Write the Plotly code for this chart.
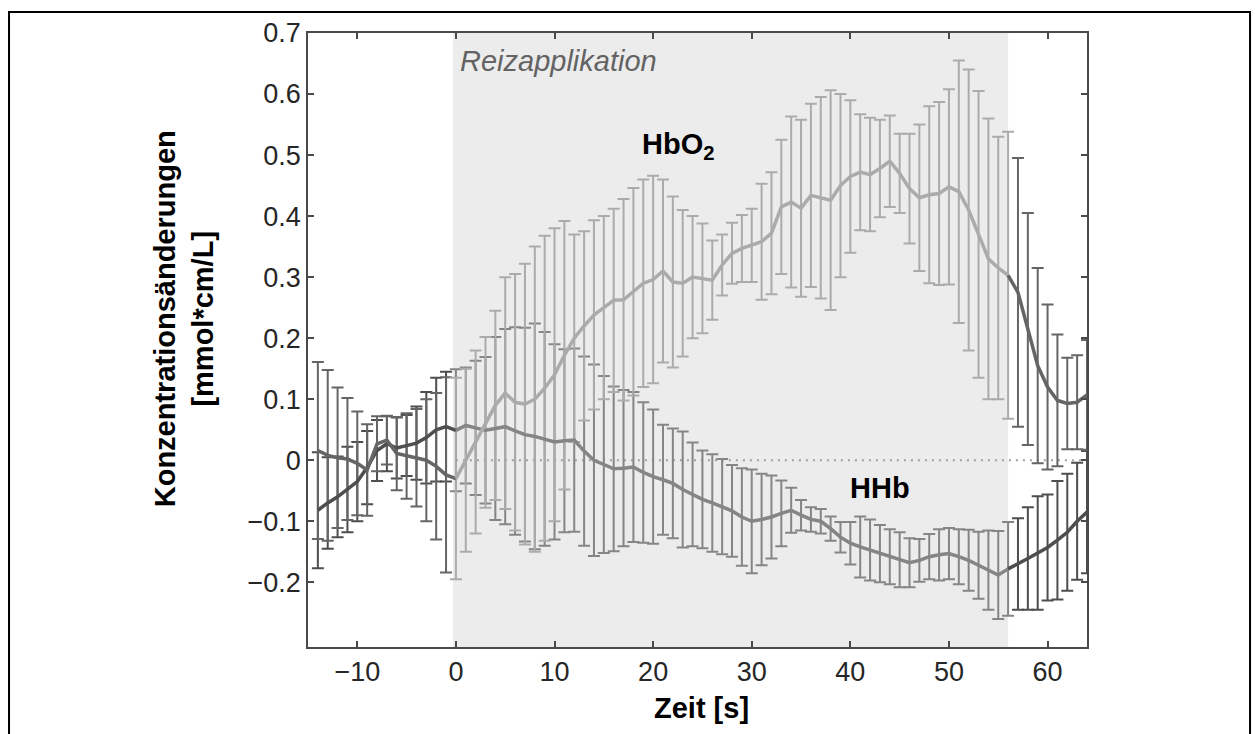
import plotly.graph_objects as go

# ---------------- data ----------------
time_s = list(range(-14, 65))

hbo2_mean = [0.016, 0.008, 0.004, 0.002, -0.005, -0.016, 0.027, 0.033, 0.011, 0.007,
             0.004, 0.0, -0.01, -0.024, -0.03, 0.0, 0.03, 0.062, 0.09, 0.11,
             0.095, 0.092, 0.1, 0.118, 0.14, 0.172, 0.2, 0.22, 0.238, 0.25,
             0.262, 0.263, 0.276, 0.29, 0.296, 0.31, 0.292, 0.29, 0.3, 0.298,
             0.295, 0.32, 0.339, 0.347, 0.352, 0.358, 0.372, 0.415, 0.423, 0.413,
             0.434, 0.43, 0.426, 0.45, 0.465, 0.472, 0.468, 0.478, 0.49, 0.47,
             0.445, 0.43, 0.435, 0.437, 0.448, 0.44, 0.41, 0.37, 0.33, 0.315,
             0.303, 0.275, 0.215, 0.155, 0.12, 0.098, 0.093, 0.095, 0.107]

hbo2_err = [0.145, 0.14, 0.115, 0.1, 0.085, 0.075, 0.045, 0.04, 0.06, 0.07,
            0.08, 0.1, 0.12, 0.16, 0.165, 0.15, 0.15, 0.14, 0.155, 0.19,
            0.21, 0.23, 0.25, 0.25, 0.24, 0.22, 0.17, 0.155, 0.155, 0.15,
            0.15, 0.165, 0.17, 0.17, 0.17, 0.15, 0.14, 0.12, 0.1, 0.09,
            0.065, 0.05, 0.05, 0.055, 0.06, 0.095, 0.1, 0.11, 0.14, 0.145,
            0.15, 0.165, 0.18, 0.15, 0.125, 0.095, 0.093, 0.08, 0.075, 0.065,
            0.09, 0.12, 0.145, 0.15, 0.16, 0.215, 0.23, 0.235, 0.23, 0.215,
            0.235, 0.22, 0.19, 0.16, 0.135, 0.108, 0.075, 0.077, 0.09]

hhb_mean = [-0.082, -0.07, -0.06, -0.048, -0.035, -0.012, 0.016, 0.027, 0.02, 0.024,
            0.028, 0.037, 0.05, 0.055, 0.049, 0.057, 0.053, 0.049, 0.052, 0.055,
            0.048, 0.042, 0.039, 0.035, 0.03, 0.032, 0.033, 0.015, 0.0, -0.007,
            -0.014, -0.013, -0.011, -0.02, -0.027, -0.032, -0.038, -0.048, -0.056, -0.064,
            -0.07, -0.076, -0.083, -0.093, -0.1, -0.097, -0.093, -0.087, -0.082, -0.09,
            -0.097, -0.1, -0.112, -0.126, -0.136, -0.142, -0.147, -0.153, -0.158, -0.163,
            -0.168, -0.164, -0.158, -0.155, -0.153, -0.158, -0.164, -0.172, -0.18, -0.188,
            -0.178, -0.17, -0.161, -0.152, -0.143, -0.131, -0.118, -0.1, -0.085]

hhb_err = [0.095, 0.075, 0.066, 0.07, 0.065, 0.06, 0.05, 0.045, 0.05, 0.05,
           0.06, 0.075, 0.085, 0.09, 0.1, 0.095, 0.11, 0.12, 0.15, 0.16,
           0.17, 0.175, 0.185, 0.175, 0.16, 0.15, 0.15, 0.155, 0.157, 0.145,
           0.135, 0.128, 0.123, 0.115, 0.11, 0.09, 0.09, 0.095, 0.085, 0.08,
           0.08, 0.078, 0.075, 0.08, 0.085, 0.075, 0.068, 0.054, 0.037, 0.025,
           0.02, 0.02, 0.02, 0.025, 0.035, 0.05, 0.05, 0.047, 0.045, 0.045,
           0.04, 0.035, 0.037, 0.042, 0.042, 0.045, 0.05, 0.055, 0.065, 0.072,
           0.077, 0.075, 0.084, 0.093, 0.087, 0.097, 0.096, 0.096, 0.1]

stim_start = 0
stim_end = 56

x_tickvals = [-10, 0, 10, 20, 30, 40, 50, 60]
x_ticktext = ["\u221210", "0", "10", "20", "30", "40", "50", "60"]
y_tickvals = [-0.2, -0.1, 0, 0.1, 0.2, 0.3, 0.4, 0.5, 0.6, 0.7]
y_ticktext = ["\u22120.2", "\u22120.1", "0", "0.1", "0.2", "0.3", "0.4", "0.5", "0.6", "0.7"]

# ---------------- styles ----------------
FONT = "Liberation Sans, Arial, Helvetica, sans-serif"
COL_HBO2_STIM = "#ababab"
COL_HHB_STIM = "#858585"
COL_HBO2_REST = "#656565"
COL_HHB_REST = "#4e4e4e"
AXCOL = "#4a4a4a"


def subset(xs, vals, cond):
    return [v for x, v in zip(xs, vals) if cond(x)]


segments_bars = [
    (lambda t: t < stim_start, "rest"),
    (lambda t: stim_start <= t <= stim_end, "stim"),
    (lambda t: t > stim_end, "rest"),
]
segments_lines = [
    (lambda t: t <= stim_start, "rest"),
    (lambda t: stim_start <= t <= stim_end, "stim"),
    (lambda t: t >= stim_end, "rest"),
]

fig = go.Figure()

series = [
    ("HHb", hhb_mean, hhb_err, COL_HHB_STIM, COL_HHB_REST),
    ("HbO2", hbo2_mean, hbo2_err, COL_HBO2_STIM, COL_HBO2_REST),
]

# error bars
for name, mean, err, cs, cr in series:
    for cond, kind in segments_bars:
        col = cs if kind == "stim" else cr
        fig.add_trace(go.Scatter(
            x=subset(time_s, time_s, cond),
            y=subset(time_s, mean, cond),
            mode="markers",
            marker=dict(size=2, color=col, opacity=0),
            error_y=dict(type="data", array=subset(time_s, err, cond),
                         visible=True, color=col, thickness=2, width=6),
            showlegend=False, hoverinfo="skip",
        ))

# mean lines
for name, mean, err, cs, cr in series:
    for cond, kind in segments_lines:
        col = cs if kind == "stim" else cr
        fig.add_trace(go.Scatter(
            x=subset(time_s, time_s, cond),
            y=subset(time_s, mean, cond),
            mode="lines",
            line=dict(color=col, width=3.5),
            showlegend=False, name=name,
        ))

# stimulation shading and zero line
fig.add_shape(type="rect", xref="x", yref="paper", x0=stim_start - 0.3, x1=stim_end,
              y0=0, y1=1, fillcolor="#ececec", line=dict(width=0), layer="below")
fig.add_shape(type="line", xref="x", yref="y", x0=stim_start, x1=64, y0=0, y1=0,
              line=dict(color="#a0a0a0", width=2, dash="2px,5px"), layer="below")

# outer frame
fig.add_shape(type="rect", xref="paper", yref="paper",
              x0=-0.3838, x1=1.2093, y0=-0.16, y1=1.0342,
              line=dict(color="black", width=2), fillcolor="rgba(0,0,0,0)")

fig.add_annotation(x=0.2, y=0.654, xref="x", yref="y", text="Reizapplikation",
                   showarrow=False, xanchor="left", yanchor="middle",
                   font=dict(family=FONT, size=29, color="#636363", style="italic"))
fig.add_annotation(x=18.7, y=0.515, xref="x", yref="y", text="<b>HbO<sub>2</sub></b>",
                   showarrow=False, xanchor="left", yanchor="middle",
                   font=dict(family=FONT, size=29, color="black"))
fig.add_annotation(x=39.8, y=-0.046, xref="x", yref="y", text="<b>HHb</b>",
                   showarrow=False, xanchor="left", yanchor="middle",
                   font=dict(family=FONT, size=29, color="black"))
fig.add_annotation(x=0.5045, y=-0.0993, xref="paper", yref="paper", text="<b>Zeit [s]</b>",
                   showarrow=False, xanchor="center", yanchor="middle",
                   font=dict(family=FONT, size=29, color="black"))
fig.add_annotation(x=-0.159, y=0.534, xref="paper", yref="paper",
                   text="<b>Konzentrationsänderungen<br>[mmol*cm/L]</b>",
                   showarrow=False, xanchor="center", yanchor="middle", textangle=-90,
                   font=dict(family=FONT, size=29, color="black"))

axis_common = dict(showline=True, linecolor=AXCOL, linewidth=1.6, mirror="ticks",
                   ticks="inside", ticklen=6, tickwidth=1.6, tickcolor=AXCOL,
                   showgrid=False, zeroline=False,
                   tickfont=dict(family=FONT, size=27, color="#262626"))

fig.update_layout(
    width=1255, height=734,
    margin=dict(l=308, r=168, t=33, b=87),
    paper_bgcolor="white", plot_bgcolor="white",
    showlegend=False,
    xaxis=dict(range=[-15, 64], tickvals=x_tickvals, ticktext=x_ticktext, **axis_common),
    yaxis=dict(range=[-0.306, 0.7], tickvals=y_tickvals, ticktext=y_ticktext, **axis_common),
)

fig.write_html("out.html")
